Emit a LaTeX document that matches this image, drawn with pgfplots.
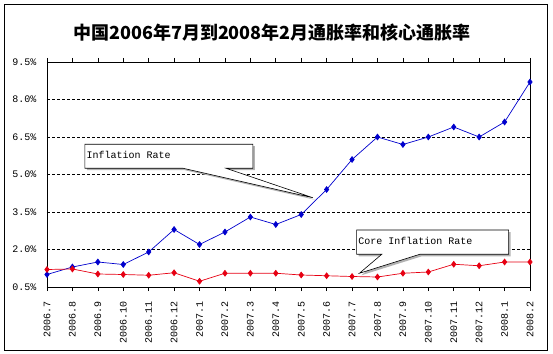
\documentclass[border=0pt]{standalone}
\usepackage{pgfplots}
\pgfplotsset{compat=1.18}
\usepackage{fontspec}
\setmainfont{Liberation Mono}
\newfontfamily\cjk{Noto Sans CJK SC}
\usetikzlibrary{shadows}
\definecolor{infl}{RGB}{0,0,205}
\definecolor{core}{RGB}{230,0,18}
\begin{document}
\begin{tikzpicture}[x=1pt,y=1pt]
\path[use as bounding box] (0,0) rectangle (553,353);
\draw[line width=0.8pt] (4,2.5) rectangle (547.5,348.5);
\node[font=\cjk\bfseries\fontsize{18}{20}\selectfont] at (272,320) {中国2006年7月到2008年2月通胀率和核心通胀率};
\begin{axis}[
  at={(47pt,66pt)}, anchor=south west,
  scale only axis, width=483pt, height=225pt,
  xmin=0, xmax=19, ymin=0.5, ymax=9.5,
  clip=false,
  axis line style={line width=0.8pt},
  ytick={0.5,2.0,3.5,5.0,6.5,8.0,9.5},
  yticklabels={0.5\%,2.0\%,3.5\%,5.0\%,6.5\%,8.0\%,9.5\%},
  ytick style={draw=none},
  yticklabel style={font=\fontsize{10}{12}\selectfont},
  yticklabel shift=3pt,
  xtick={0,...,19},
  xticklabels={2006.7,2006.8,2006.9,2006.10,2006.11,2006.12,2007.1,2007.2,2007.3,2007.4,2007.5,2007.6,2007.7,2007.8,2007.9,2007.10,2007.11,2007.12,2008.1,2008.2},
  xticklabel style={rotate=90, anchor=east, font=\fontsize{10}{12}\selectfont},
  xticklabel shift=7pt,
  tick align=outside,
  major tick length=4pt,
  xtick style={black, line width=0.6pt},
  ymajorgrids,
  grid style={black, line width=0.6pt, dash pattern=on 3pt off 2pt},
]
\addplot[color=infl, line width=0.7pt, mark=diamond*, mark size=2.9pt] coordinates {
(0,1.0) (1,1.3) (2,1.5) (3,1.4) (4,1.9) (5,2.8) (6,2.2) (7,2.7) (8,3.3) (9,3.0)
(10,3.4) (11,4.4) (12,5.6) (13,6.5) (14,6.2) (15,6.5) (16,6.9) (17,6.5) (18,7.1) (19,8.7)};
\addplot[color=core, line width=0.7pt, mark=diamond*, mark size=2.9pt] coordinates {
(0,1.2) (1,1.22) (2,1.02) (3,1.0) (4,0.97) (5,1.07) (6,0.73) (7,1.05) (8,1.05) (9,1.05)
(10,0.98) (11,0.95) (12,0.92) (13,0.9) (14,1.05) (15,1.1) (16,1.41) (17,1.35) (18,1.5) (19,1.5)};
\draw[fill=white, line width=0.6pt, drop shadow={shadow xshift=2pt, shadow yshift=-2pt, fill=gray!60, opacity=1}]
  (axis cs:1.49,5.25) -- (axis cs:5.35,5.25) -- (axis cs:10.46,4.07) -- (axis cs:7.04,5.25)
  -- (axis cs:8.10,5.25) -- (axis cs:8.10,6.21) -- (axis cs:1.49,6.21) -- cycle;
\node[anchor=west, inner sep=1.5pt, font=\fontsize{10}{12}\selectfont] at (axis cs:1.49,5.78) {Inflation Rate};
\draw[fill=white, line width=0.6pt, drop shadow={shadow xshift=2pt, shadow yshift=-2pt, fill=gray!60, opacity=1}]
  (axis cs:12.18,1.81) -- (axis cs:13.17,1.81) -- (axis cs:12.29,1.05) -- (axis cs:14.67,1.81)
  -- (axis cs:18.16,1.81) -- (axis cs:18.16,2.78) -- (axis cs:12.18,2.78) -- cycle;
\node[anchor=west, inner sep=1.5pt, font=\fontsize{10}{12}\selectfont] at (axis cs:12.18,2.34) {Core Inflation Rate};
\end{axis}
\end{tikzpicture}
\end{document}
